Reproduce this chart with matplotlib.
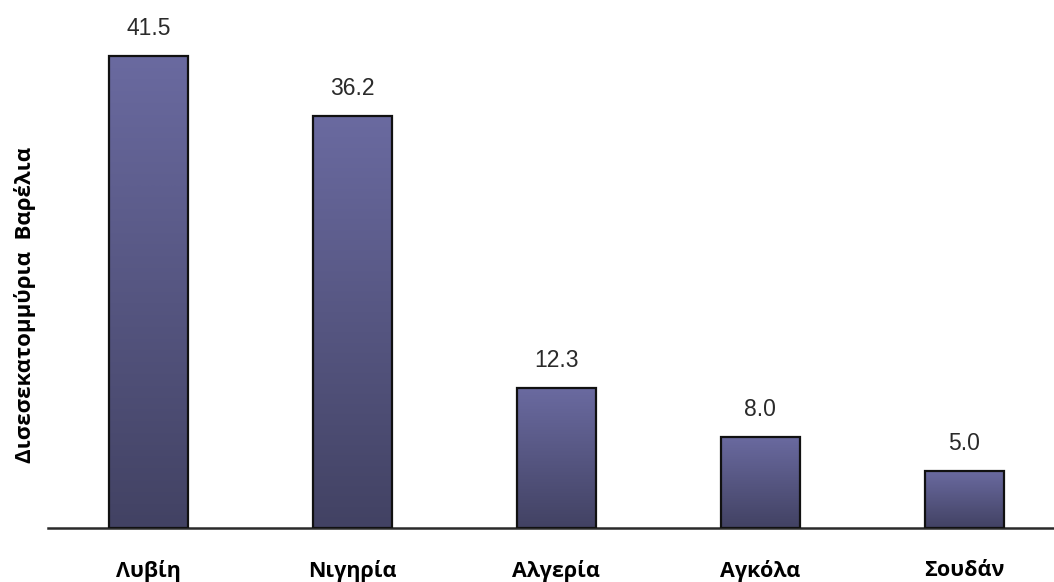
import matplotlib
matplotlib.use("Agg")
import matplotlib.pyplot as plt
import numpy as np
from matplotlib.colors import LinearSegmentedColormap

categories = ["Λυβίη", "Νιγηρία", "Αλγερία", "Αγκόλα", "Σουδάν"]
values = [41.5, 36.2, 12.3, 8.0, 5.0]
value_labels = ["41.5", "36.2", "12.3", "8.0", "5.0"]
ylabel = "Δισεσεκατομμύρια  Βαρέλια"

W, H = 1054, 582
fig = plt.figure(figsize=(W / 100, H / 100), dpi=100)
ax = fig.add_axes([48 / W, 54 / H, 1 - 48 / W, 528 / H])

xs = np.arange(len(categories))
width = 0.39
cmap = LinearSegmentedColormap.from_list("g", ["#424263", "#6a6aa0"])
grad = np.linspace(0, 1, 256).reshape(-1, 1)

for x, v, lab in zip(xs, values, value_labels):
    ax.imshow(grad, extent=(x - width / 2, x + width / 2, 0, v), origin="lower",
              cmap=cmap, aspect="auto", zorder=2, interpolation="bicubic")
    ax.bar(x, v, width=width, facecolor="none", edgecolor="#111111", linewidth=1.6, zorder=3)
    ax.text(x, v + 1.85, lab, ha="center", va="baseline", fontsize=16.5,
            family="Liberation Sans", color="#2a2a2a")

ax.set_xlim(-0.493, 4.44)
ax.set_ylim(0, 46.4)
for s in ["top", "right", "left"]:
    ax.spines[s].set_visible(False)
ax.spines["bottom"].set_linewidth(1.8)
ax.spines["bottom"].set_color("#2a2a2a")
ax.set_yticks([])
ax.set_xticks(xs)
ax.set_xticklabels(categories, fontsize=15.5, fontweight="bold", family="Open Sans")
ax.tick_params(axis="x", length=0, pad=23)

fig.text(25 / W, 1 - 305 / H, ylabel, rotation=90, ha="center", va="center",
         fontsize=16, fontweight="bold", family="Open Sans")

fig.savefig("out.png", dpi=100)
